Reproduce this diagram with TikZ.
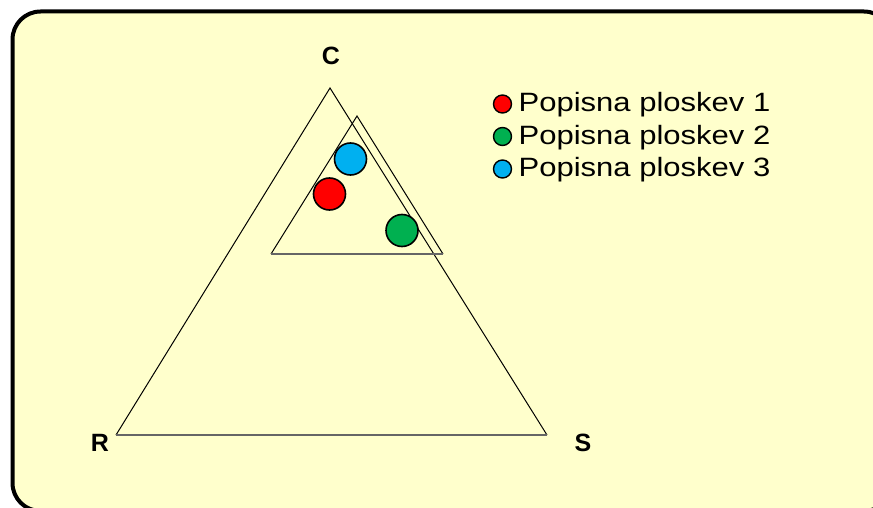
\documentclass[tikz,border=0pt]{standalone}
\usepackage{fontspec}
\setmainfont{Liberation Sans}
\newfontfamily\legendfont[FakeStretch=1.17]{Liberation Sans}
\definecolor{bgyellow}{HTML}{FFFFCC}
\definecolor{pred}{HTML}{FF0000}
\definecolor{pgreen}{HTML}{00B050}
\definecolor{pblue}{HTML}{00B0F0}
\tikzset{
  corner/.style={font=\bfseries\fontsize{25}{30}\selectfont, inner sep=0pt},
  bigdot/.style={circle, draw=black, line width=1.6pt, minimum size=32pt, inner sep=0pt},
  smalldot/.style={circle, draw=black, line width=1.4pt, minimum size=18pt, inner sep=0pt},
  legendtext/.style={font=\legendfont\fontsize{26.5}{30}\selectfont, anchor=base west, inner sep=0pt},
  tri/.style={draw=black, line width=1pt},
  base/.style={draw=black!60, line width=1.6pt}
}
\begin{document}
\begin{tikzpicture}[x=1pt, y=-1pt]
\useasboundingbox (0,0) rectangle (873,508);
\clip (0,0) rectangle (873,508);
\fill[white] (0,0) rectangle (873,508);
\draw[fill=bgyellow, line width=4pt, rounded corners=28pt] (12.5,11.5) rectangle (892,511);

% big triangle
\coordinate (Cv) at (330,88);
\coordinate (Rv) at (116,435);
\coordinate (Sv) at (547,435);
\draw[tri] (Rv) -- (Cv) -- (Sv);
\draw[base] (Rv) -- (Sv);

% small triangle
\coordinate (a) at (357,116);
\coordinate (b) at (271,254);
\coordinate (c) at (443,254);
\draw[tri] (b) -- (a) -- (c);
\draw[base] (b) -- (c);

% labels
\node[corner] (lC) at (331,56) {C};
\node[corner] (lR) at (100,443) {R};
\node[corner] (lS) at (583,443) {S};

% data points
\node[bigdot, fill=pblue] (p3) at (350.5,159) {};
\node[bigdot, fill=pred] (p1) at (329.5,194) {};
\node[bigdot, fill=pgreen] (p2) at (402,230.5) {};

% legend
\node[smalldot, fill=pred] (d1) at (502.5,104) {};
\node[smalldot, fill=pgreen] (d2) at (502.5,136.5) {};
\node[smalldot, fill=pblue] (d3) at (502.5,169) {};
\node[legendtext] (t1) at (518.5,112) {Popisna ploskev 1};
\node[legendtext] (t2) at (518.5,144.5) {Popisna ploskev 2};
\node[legendtext] (t3) at (518.5,177) {Popisna ploskev 3};
\end{tikzpicture}
\end{document}
